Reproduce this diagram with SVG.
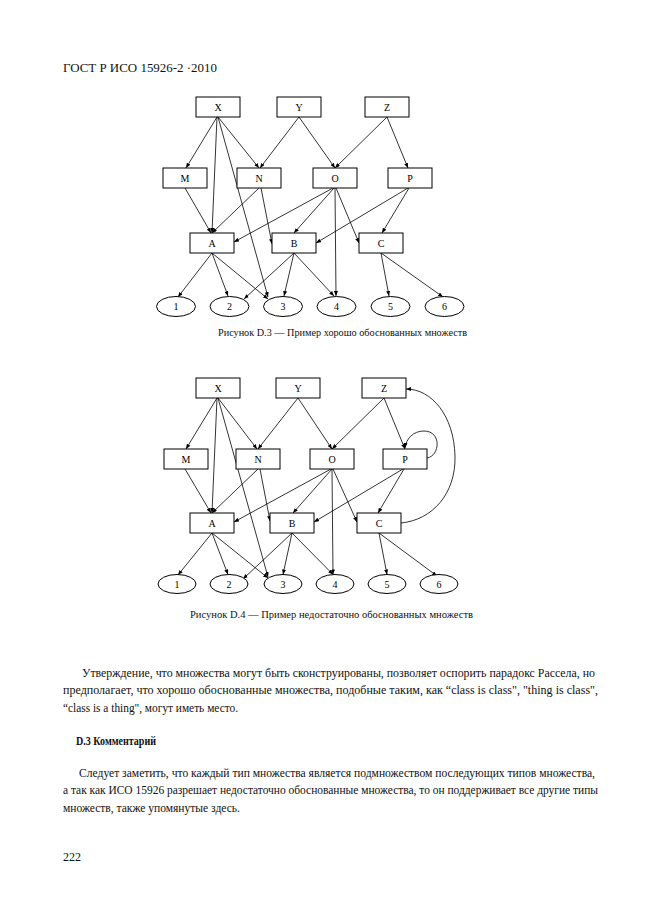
<svg xmlns="http://www.w3.org/2000/svg" width="661" height="913" viewBox="0 0 661 913">
<defs>
<marker id="ah" viewBox="0 0 10 8" refX="10" refY="4" markerWidth="5" markerHeight="4" markerUnits="userSpaceOnUse" orient="auto">
<path d="M0,0 L10,4 L0,8 Z" fill="#000"/>
</marker>
<style>
.bx{fill:#fff;stroke:#000;stroke-width:1}
.el{fill:#fff;stroke:#000;stroke-width:1}
.lb{font-family:"Liberation Serif","Times New Roman",serif;font-size:10px;text-anchor:middle;fill:#000}
.ed line,.ed path{stroke:#000;stroke-width:0.8;fill:none;marker-end:url(#ah)}
.tx{font-family:"Liberation Serif","Times New Roman",serif;font-size:12px;fill:#111}
.cap{font-family:"Liberation Serif","Times New Roman",serif;font-size:10px;fill:#111}
</style>
</defs>
<rect width="661" height="913" fill="#fff"/>
<text class="tx" x="63" y="72" textLength="154" lengthAdjust="spacingAndGlyphs">ГОСТ Р ИСО 15926-2 ·2010</text>

<!-- Figure D.3 -->
<g id="fig3">
<g id="edges3" class="ed">
<line x1="217" y1="117" x2="186" y2="168"/>
<line x1="217" y1="117" x2="212" y2="233"/>
<line x1="218" y1="117" x2="268" y2="297"/>
<line x1="218" y1="117" x2="259" y2="168"/>
<line x1="299" y1="117" x2="260" y2="168"/>
<line x1="299" y1="117" x2="335" y2="168"/>
<line x1="387" y1="117" x2="335" y2="168"/>
<line x1="387" y1="117" x2="408" y2="168"/>
<line x1="185" y1="188" x2="211" y2="233"/>
<line x1="259" y1="188" x2="212" y2="233"/>
<line x1="261" y1="188" x2="272" y2="244"/>
<line x1="333" y1="188" x2="234" y2="242"/>
<line x1="334" y1="188" x2="294" y2="233"/>
<line x1="335" y1="188" x2="336" y2="296"/>
<line x1="336" y1="188" x2="359" y2="243"/>
<line x1="408" y1="188" x2="316" y2="243"/>
<line x1="409" y1="188" x2="382" y2="233"/>
<line x1="212" y1="253" x2="178" y2="297"/>
<line x1="212" y1="253" x2="228" y2="296"/>
<line x1="212" y1="253" x2="268" y2="299"/>
<line x1="294" y1="253" x2="244" y2="299"/>
<line x1="294" y1="253" x2="284" y2="296"/>
<line x1="294" y1="253" x2="334" y2="296"/>
<line x1="381" y1="253" x2="389" y2="296"/>
<line x1="381" y1="253" x2="443" y2="297"/>
</g>
<g id="n3X"><rect class="bx" x="196" y="97" width="44" height="20"/><text class="lb" x="218" y="110.5">X</text></g>
<g id="n3Y"><rect class="bx" x="277" y="97" width="44" height="20"/><text class="lb" x="299" y="110.5">Y</text></g>
<g id="n3Z"><rect class="bx" x="365" y="97" width="44" height="20"/><text class="lb" x="387" y="110.5">Z</text></g>
<g id="n3M"><rect class="bx" x="163" y="168" width="44" height="20"/><text class="lb" x="185" y="181.5">M</text></g>
<g id="n3N"><rect class="bx" x="237" y="168" width="44" height="20"/><text class="lb" x="259" y="181.5">N</text></g>
<g id="n3O"><rect class="bx" x="313" y="168" width="44" height="20"/><text class="lb" x="335" y="181.5">O</text></g>
<g id="n3P"><rect class="bx" x="388" y="168" width="44" height="20"/><text class="lb" x="410" y="181.5">P</text></g>
<g id="n3A"><rect class="bx" x="190" y="233" width="44" height="20"/><text class="lb" x="212" y="246.5">A</text></g>
<g id="n3B"><rect class="bx" x="272" y="233" width="44" height="20"/><text class="lb" x="294" y="246.5">B</text></g>
<g id="n3C"><rect class="bx" x="359" y="233" width="44" height="20"/><text class="lb" x="381" y="246.5">C</text></g>
<g id="n3_1"><ellipse class="el" cx="176" cy="306.5" rx="19.5" ry="10"/><text class="lb" x="176" y="310">1</text></g>
<g id="n3_2"><ellipse class="el" cx="229.5" cy="306.5" rx="19.5" ry="10"/><text class="lb" x="229.5" y="310">2</text></g>
<g id="n3_3"><ellipse class="el" cx="283" cy="306.5" rx="19.5" ry="10"/><text class="lb" x="283" y="310">3</text></g>
<g id="n3_4"><ellipse class="el" cx="336.5" cy="306.5" rx="19.5" ry="10"/><text class="lb" x="336.5" y="310">4</text></g>
<g id="n3_5"><ellipse class="el" cx="390.5" cy="306.5" rx="19.5" ry="10"/><text class="lb" x="390.5" y="310">5</text></g>
<g id="n3_6"><ellipse class="el" cx="444.5" cy="306.5" rx="19.5" ry="10"/><text class="lb" x="444.5" y="310">6</text></g>
<text class="cap" x="218" y="336" textLength="249" lengthAdjust="spacingAndGlyphs">Рисунок D.3 — Пример хорошо обоснованных множеств</text>
</g>

<!-- Figure D.4 -->
<g id="fig4">
<g id="edges4" class="ed">
<line x1="217" y1="398" x2="186" y2="449"/>
<line x1="217" y1="398" x2="212" y2="513"/>
<line x1="218" y1="398" x2="268" y2="577"/>
<line x1="218" y1="398" x2="257" y2="449"/>
<line x1="298" y1="398" x2="258" y2="449"/>
<line x1="298" y1="398" x2="332" y2="449"/>
<line x1="384" y1="398" x2="332" y2="449"/>
<line x1="384" y1="398" x2="405" y2="449"/>
<line x1="185" y1="469" x2="211" y2="513"/>
<line x1="258" y1="469" x2="212" y2="513"/>
<line x1="260" y1="469" x2="270" y2="521"/>
<line x1="331" y1="469" x2="234" y2="522"/>
<line x1="332" y1="469" x2="293" y2="513"/>
<line x1="332" y1="469" x2="333" y2="574.5"/>
<line x1="333" y1="469" x2="357" y2="522"/>
<line x1="403" y1="469" x2="314" y2="522"/>
<line x1="404" y1="469" x2="378" y2="513"/>
<line x1="212" y1="533" x2="178" y2="575"/>
<line x1="212" y1="533" x2="228" y2="574.5"/>
<line x1="212" y1="533" x2="268" y2="578"/>
<line x1="292" y1="533" x2="243" y2="579"/>
<line x1="292" y1="533" x2="283" y2="574.5"/>
<line x1="292" y1="533" x2="333" y2="574.5"/>
<line x1="379" y1="533" x2="387" y2="574.5"/>
<line x1="379" y1="533" x2="437" y2="576"/>
<path d="M427,458 C440,456 442,431 424,431 C413,431 406,439 405,448"/>
<path d="M401,523 C432,520 456,494 455,456 C454,416 432,389 406,389"/>
</g>
<g id="n4X"><rect class="bx" x="196" y="378" width="44" height="20"/><text class="lb" x="218" y="391.5">X</text></g>
<g id="n4Y"><rect class="bx" x="276" y="378" width="44" height="20"/><text class="lb" x="298" y="391.5">Y</text></g>
<g id="n4Z"><rect class="bx" x="362" y="378" width="44" height="20"/><text class="lb" x="384" y="391.5">Z</text></g>
<g id="n4M"><rect class="bx" x="164" y="449" width="44" height="20"/><text class="lb" x="186" y="462.5">M</text></g>
<g id="n4N"><rect class="bx" x="236" y="449" width="44" height="20"/><text class="lb" x="258" y="462.5">N</text></g>
<g id="n4O"><rect class="bx" x="310" y="449" width="44" height="20"/><text class="lb" x="332" y="462.5">O</text></g>
<g id="n4P"><rect class="bx" x="383" y="449" width="44" height="20"/><text class="lb" x="405" y="462.5">P</text></g>
<g id="n4A"><rect class="bx" x="190" y="513" width="44" height="20"/><text class="lb" x="212" y="526.5">A</text></g>
<g id="n4B"><rect class="bx" x="270" y="513" width="44" height="20"/><text class="lb" x="292" y="526.5">B</text></g>
<g id="n4C"><rect class="bx" x="357" y="513" width="44" height="20"/><text class="lb" x="379" y="526.5">C</text></g>
<g id="n4_1"><ellipse class="el" cx="177" cy="584" rx="19" ry="9.5"/><text class="lb" x="177" y="587.5">1</text></g>
<g id="n4_2"><ellipse class="el" cx="229" cy="584" rx="19" ry="9.5"/><text class="lb" x="229" y="587.5">2</text></g>
<g id="n4_3"><ellipse class="el" cx="283" cy="584" rx="19" ry="9.5"/><text class="lb" x="283" y="587.5">3</text></g>
<g id="n4_4"><ellipse class="el" cx="335" cy="584" rx="19" ry="9.5"/><text class="lb" x="335" y="587.5">4</text></g>
<g id="n4_5"><ellipse class="el" cx="387" cy="584" rx="19" ry="9.5"/><text class="lb" x="387" y="587.5">5</text></g>
<g id="n4_6"><ellipse class="el" cx="439" cy="584" rx="19" ry="9.5"/><text class="lb" x="439" y="587.5">6</text></g>
<text class="cap" x="190" y="618" textLength="283" lengthAdjust="spacingAndGlyphs">Рисунок D.4 — Пример недостаточно обоснованных множеств</text>
</g>

<text class="tx" x="82" y="677" textLength="513" lengthAdjust="spacingAndGlyphs">Утверждение, что множества могут быть сконструированы, позволяет оспорить парадокс Рассела, но</text>
<text class="tx" x="63" y="694" textLength="535" lengthAdjust="spacingAndGlyphs">предполагает, что хорошо обоснованные множества, подобные таким, как “class is class", "thing is class",</text>
<text class="tx" x="63" y="711.5" textLength="175" lengthAdjust="spacingAndGlyphs">“class is a thing", могут иметь место.</text>
<text class="tx" x="76" y="745" font-weight="bold" font-size="10.5" textLength="80" lengthAdjust="spacingAndGlyphs">D.3 Комментарий</text>
<text class="tx" x="79" y="777" textLength="516" lengthAdjust="spacingAndGlyphs">Следует заметить, что каждый тип множества является подмножеством последующих типов множества,</text>
<text class="tx" x="63" y="794" textLength="535" lengthAdjust="spacingAndGlyphs">а так как ИСО 15926 разрешает недостаточно обоснованные множества, то он поддерживает все другие типы</text>
<text class="tx" x="63" y="812" textLength="177" lengthAdjust="spacingAndGlyphs">множеств, также упомянутые здесь.</text>
<text class="tx" x="63" y="861" textLength="18" lengthAdjust="spacingAndGlyphs">222</text>
</svg>
